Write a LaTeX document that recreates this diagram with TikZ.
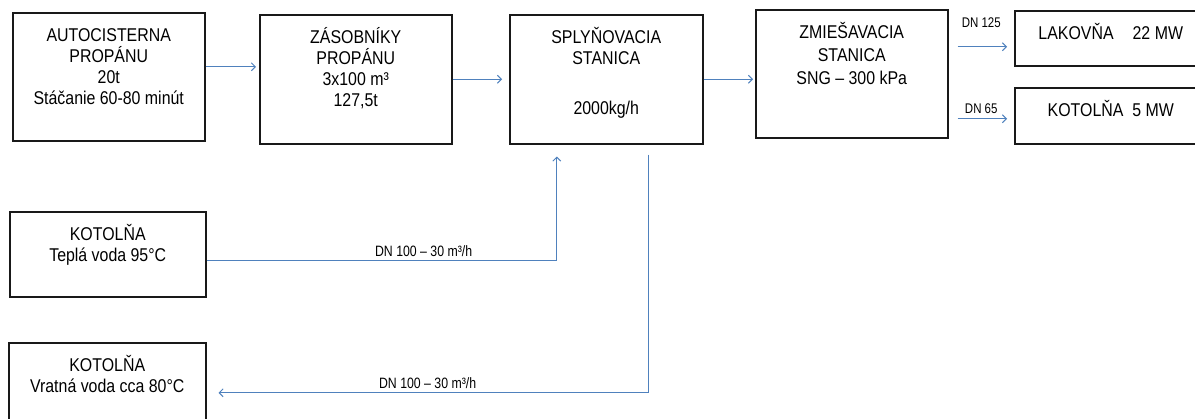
\documentclass[tikz,border=0pt]{standalone}
\usepackage{fontspec}
\setmainfont{Liberation Sans}[FakeStretch=0.86]
\newfontfamily\narrowfont{Liberation Sans}[FakeStretch=0.82]
\usetikzlibrary{arrows.meta}
\definecolor{pipeblue}{HTML}{4F81BD}
\newcommand{\boxtext}[3]{\parbox[c][#2][t]{#1}{\centering\rule{0pt}{28.5pt}#3}}
\tikzset{
  stationbox/.style={draw=black!90, line width=1.5pt, inner sep=0pt, anchor=north west,
    font=\fontsize{18.5}{21}\selectfont},
  flow/.style={draw=pipeblue, line width=0.9pt, ->},
  dnlabel/.style={font=\narrowfont\fontsize{14}{16}\selectfont, anchor=base, inner sep=0pt},
  pipelabel/.style={font=\narrowfont\fontsize{15}{17}\selectfont, anchor=base, inner sep=0pt, yshift=4.5pt}
}
\begin{document}
\begin{tikzpicture}[x=1pt,y=-1pt,>={Straight Barb[length=4pt,width=8pt]}]
\useasboundingbox (0,0) rectangle (1195,418);
\node[stationbox] (a) at (12,12) {\boxtext{192pt}{128pt}{AUTOCISTERNA\\PROPÁNU\\20t\\Stáčanie 60-80 minút}};
\node[stationbox] (b) at (259,14) {\boxtext{192pt}{129pt}{ZÁSOBNÍKY\\PROPÁNU\\3x100 m³\\127,5t}};
\node[stationbox] (c) at (509,14) {\boxtext{193pt}{129pt}{SPLYŇOVACIA\\STANICA\\[29pt]2000kg/h}};
\node[stationbox] (d) at (755,9) {\boxtext{192pt}{128pt}{ZMIEŠAVACIA\\[2pt]STANICA\\[2pt]SNG – 300 kPa}};
\node[stationbox] (e) at (1014,10) {\boxtext{192pt}{55pt}{LAKOVŇA\hspace{19pt}22 MW}};
\node[stationbox] (f) at (1014,87) {\boxtext{192pt}{56pt}{KOTOLŇA\ \ 5 MW}};
\node[stationbox] (g) at (9,211) {\boxtext{196pt}{85pt}{KOTOLŇA\\Teplá voda 95°C}};
\node[stationbox] (h) at (8,342) {\boxtext{197pt}{88pt}{KOTOLŇA\\Vratná voda cca 80°C}};
\coordinate (ab) at ([yshift=10pt]a.east);
\coordinate (lakin) at ([yshift=-8.5pt]e.west);
\coordinate (kotin) at ([yshift=-3pt]f.west);
\coordinate (supply) at ([xshift=-49.5pt]c.south);
\coordinate (ret) at ([xshift=42.5pt,yshift=-10pt]c.south);
\draw[flow, shorten >=3pt] (ab) -- (ab -| b.west);
\draw[flow, shorten >=7pt] (b.east) -- (b.east -| c.west);
\draw[flow, shorten >=2pt] (c.east) -- (c.east -| d.west);
\draw[flow, shorten <=9pt, shorten >=7pt] (d.east |- lakin) -- node[dnlabel, yshift=19pt] {DN 125} (lakin);
\draw[flow, shorten <=9pt, shorten >=7pt] (d.east |- kotin) -- node[dnlabel, yshift=5pt] {DN 65} (kotin);
\draw[flow, shorten >=12pt] ([yshift=-6.5pt]g.east) -| node[pipelabel, pos=0.31] {DN 100 – 30 m³/h} (supply);
\draw[flow, shorten >=12pt] (ret) |- node[pipelabel, pos=0.75] {DN 100 – 30 m³/h} ([yshift=-6pt]h.east);
\end{tikzpicture}
\end{document}
